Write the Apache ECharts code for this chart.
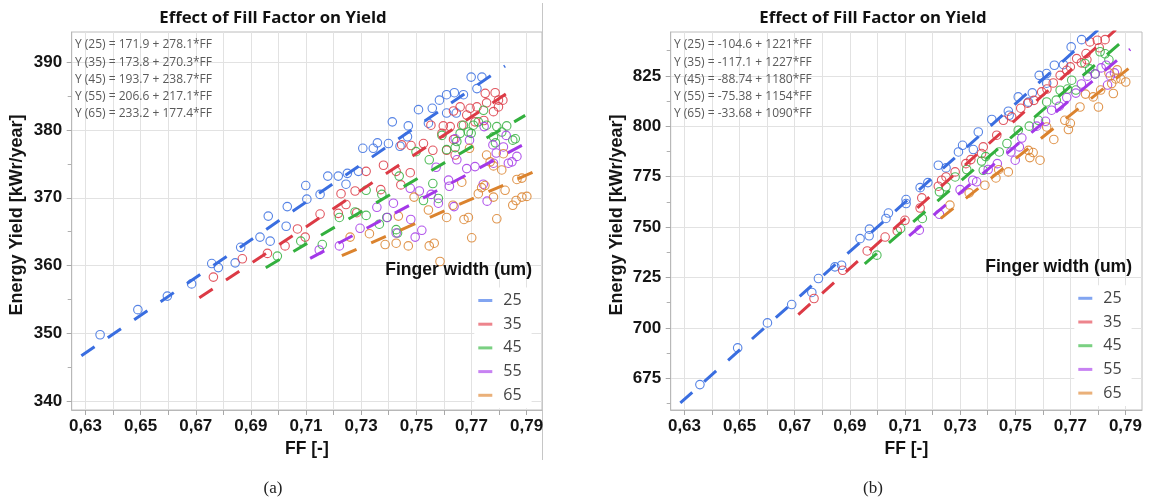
<!DOCTYPE html>
<html>
<head>
<meta charset="utf-8">
<script src="https://cdn.jsdelivr.net/npm/echarts@6/dist/echarts.min.js"></script>
<style>
html, body { margin: 0; padding: 0; background: #fff; }
#chart { width: 1154px; height: 504px; }
</style>
</head>
<body>
<div id="chart"></div>
<script>
// Finger widths (um) and their colours
const widths = ['25', '35', '45', '55', '65'];
const lineColors = ['#3a6ee0', '#dc3a45', '#33b03e', '#a338e8', '#db832e'];
const legendColors = ['#6c95ee', '#ea6f78', '#63c86c', '#bd6cf0', '#e6a262'];

// Linear fits: Y = intercept + slope * FF
const interceptA = [171.9, 173.8, 193.7, 206.6, 233.2];
const slopeA = [278.1, 270.3, 238.7, 217.1, 177.4];
const interceptB = [-104.6, -117.1, -88.74, -75.38, -33.68];
const slopeB = [1221, 1227, 1180, 1154, 1090];
const fitStart = [0.6285, 0.6713, 0.6954, 0.7115, 0.7230];
const fitEnd = [0.7822, 0.7865, 0.7895, 0.7917, 0.7932];

// Axis ticks
const xTickValues = [0.63, 0.64, 0.65, 0.66, 0.67, 0.68, 0.69, 0.70, 0.71, 0.72, 0.73, 0.74, 0.75, 0.76, 0.77, 0.78, 0.79];
const xLabelValues = [0.63, 0.65, 0.67, 0.69, 0.71, 0.73, 0.75, 0.77, 0.79];
const yLabelsA = [340, 350, 360, 370, 380, 390];
const yMinorA = [345, 355, 365, 375, 385];
const yLabelsB = [675, 700, 725, 750, 775, 800, 825];
const yMinorB = [662.5, 687.5, 712.5, 737.5, 762.5, 787.5, 812.5, 837.5];

// Panel (a): [FF, energy yield kWr/year]
const yieldA25 = [[0.6353,349.8],[0.6490,353.5],[0.6597,355.5],[0.6685,357.3],[0.6758,360.3],[0.6782,359.7],[0.6843,360.4],[0.6863,362.7],[0.6933,364.2],[0.6963,367.3],[0.6970,363.6],[0.7028,365.8],[0.7032,368.7],[0.7099,371.8],[0.7103,369.8],[0.7151,370.5],[0.7179,373.2],[0.7217,373.2],[0.7245,372.0],[0.7250,373.6],[0.7290,373.9],[0.7306,377.3],[0.7344,377.3],[0.7359,378.1],[0.7399,378.0],[0.7413,381.2],[0.7441,377.6],[0.7468,379.0],[0.7471,380.6],[0.7508,383.0],[0.7544,381.0],[0.7558,383.2],[0.7584,384.4],[0.7610,385.2],[0.7610,382.5],[0.7638,385.5],[0.7645,382.5],[0.7671,385.2],[0.7699,387.8],[0.7720,386.1],[0.7738,387.8]];
const yieldA35 = [[0.6764,358.3],[0.6869,361.0],[0.6960,361.8],[0.7024,362.9],[0.7069,365.4],[0.7097,364.2],[0.7151,367.6],[0.7217,367.7],[0.7227,370.6],[0.7245,369.0],[0.7278,371.0],[0.7284,367.8],[0.7318,373.9],[0.7371,371.2],[0.7381,374.8],[0.7427,373.9],[0.7444,371.9],[0.7447,377.8],[0.7478,373.7],[0.7481,377.7],[0.7526,378.0],[0.7553,380.7],[0.7560,377.0],[0.7593,379.5],[0.7598,380.6],[0.7610,377.0],[0.7623,380.5],[0.7635,378.6],[0.7635,382.8],[0.7641,376.3],[0.7659,383.4],[0.7665,380.7],[0.7683,382.2],[0.7695,383.2],[0.7713,381.2],[0.7720,383.4],[0.7745,381.4],[0.7750,385.4],[0.7755,384.0],[0.7780,382.7],[0.7786,385.5],[0.7798,384.4],[0.7798,383.4],[0.7814,384.4]];
const yieldA45 = [[0.6996,361.4],[0.7081,363.6],[0.7159,363.1],[0.7221,367.1],[0.7278,367.9],[0.7318,371.1],[0.7318,367.4],[0.7366,366.1],[0.7375,370.5],[0.7393,367.1],[0.7427,365.3],[0.7432,364.8],[0.7438,373.2],[0.7499,376.8],[0.7526,369.6],[0.7547,375.6],[0.7560,372.1],[0.7580,369.9],[0.7593,379.2],[0.7610,377.1],[0.7641,377.4],[0.7647,378.3],[0.7659,379.5],[0.7671,380.7],[0.7689,379.7],[0.7699,379.5],[0.7707,380.7],[0.7725,381.2],[0.7744,382.9],[0.7755,380.7],[0.7780,379.0],[0.7787,378.1],[0.7792,380.5],[0.7810,379.7],[0.7828,380.6],[0.7850,378.5],[0.7859,378.7]];
const yieldA55 = [[0.7148,362.3],[0.7221,362.9],[0.7296,365.5],[0.7357,368.6],[0.7395,367.1],[0.7417,369.2],[0.7427,364.8],[0.7478,371.4],[0.7480,366.8],[0.7496,364.2],[0.7511,371.0],[0.7520,365.2],[0.7554,370.5],[0.7572,374.5],[0.7580,369.2],[0.7617,372.6],[0.7620,371.7],[0.7637,368.7],[0.7641,378.7],[0.7647,375.6],[0.7683,374.3],[0.7693,378.5],[0.7713,374.6],[0.7743,372.0],[0.7746,380.5],[0.7757,369.5],[0.7778,377.8],[0.7780,375.1],[0.7790,376.6],[0.7816,377.5],[0.7826,379.2],[0.7834,375.1],[0.7847,375.3],[0.7865,376.1]];
const yieldA65 = [[0.7260,364.2],[0.7330,364.7],[0.7387,363.1],[0.7427,363.3],[0.7435,367.3],[0.7471,362.9],[0.7492,370.1],[0.7544,368.2],[0.7547,362.9],[0.7565,363.3],[0.7586,360.6],[0.7610,367.1],[0.7633,368.9],[0.7665,372.3],[0.7673,366.8],[0.7689,367.1],[0.7693,377.3],[0.7701,364.1],[0.7725,370.6],[0.7737,371.5],[0.7749,371.8],[0.7755,376.3],[0.7768,375.3],[0.7780,374.7],[0.7780,370.1],[0.7792,366.9],[0.7810,374.1],[0.7816,376.5],[0.7822,371.1],[0.7850,368.9],[0.7862,369.6],[0.7865,372.7],[0.7883,370.1],[0.7883,372.9],[0.7901,370.2]];

// Panel (b): [FF, energy yield kWr/year]
const yieldB25 = [[0.6356,671.9],[0.6493,690.1],[0.6601,702.5],[0.6689,711.6],[0.6762,717.6],[0.6786,724.5],[0.6846,730.3],[0.6870,731.1],[0.6937,744.3],[0.6970,745.7],[0.6971,749.0],[0.7031,754.3],[0.7040,757.0],[0.7104,761.7],[0.7104,763.7],[0.7155,769.6],[0.7183,772.1],[0.7221,780.7],[0.7249,779.4],[0.7294,787.3],[0.7309,790.6],[0.7348,788.5],[0.7366,797.2],[0.7415,803.4],[0.7475,807.5],[0.7478,805.5],[0.7511,814.6],[0.7548,812.0],[0.7562,816.6],[0.7587,825.3],[0.7614,826.2],[0.7614,821.4],[0.7642,830.3],[0.7675,830.6],[0.7703,839.4],[0.7741,843.0]];
const yieldB35 = [[0.6770,714.6],[0.6874,728.6],[0.6963,738.2],[0.7028,745.1],[0.7072,748.1],[0.7100,753.4],[0.7155,759.5],[0.7161,764.5],[0.7221,770.3],[0.7233,773.3],[0.7249,774.9],[0.7282,777.4],[0.7321,781.5],[0.7339,783.5],[0.7378,786.5],[0.7384,789.8],[0.7433,795.6],[0.7457,803.0],[0.7487,804.7],[0.7520,809.0],[0.7545,811.5],[0.7568,812.9],[0.7596,817.1],[0.7615,818.5],[0.7638,821.5],[0.7663,825.3],[0.7687,827.8],[0.7700,829.5],[0.7723,833.6],[0.7740,831.5],[0.7757,836.1],[0.7760,833.0],[0.7771,841.9],[0.7798,842.7],[0.7805,839.0],[0.7826,843.0]];
const yieldB45 = [[0.6998,736.1],[0.7084,749.3],[0.7163,754.3],[0.7225,767.5],[0.7249,770.0],[0.7282,774.9],[0.7324,778.6],[0.7378,782.8],[0.7384,778.2],[0.7393,785.0],[0.7442,787.3],[0.7470,791.5],[0.7511,798.1],[0.7551,800.1],[0.7584,803.0],[0.7614,812.1],[0.7649,813.0],[0.7663,817.9],[0.7690,818.5],[0.7705,822.9],[0.7720,818.0],[0.7753,831.2],[0.7770,828.5],[0.7790,826.0],[0.7808,837.0],[0.7826,836.0],[0.7840,833.0]];
const yieldB55 = [[0.7152,748.5],[0.7225,756.4],[0.7300,768.6],[0.7346,773.3],[0.7360,772.5],[0.7402,778.6],[0.7435,781.5],[0.7484,787.3],[0.7500,783.2],[0.7515,789.8],[0.7524,794.2],[0.7578,800.1],[0.7610,802.5],[0.7632,808.0],[0.7660,810.0],[0.7687,814.3],[0.7720,816.5],[0.7740,821.0],[0.7762,824.9],[0.7790,826.0],[0.7812,829.0],[0.7830,830.3],[0.7835,820.5],[0.7845,825.0],[0.7860,826.5]];
const yieldB65 = [[0.7263,760.9],[0.7333,767.0],[0.7390,770.8],[0.7430,774.4],[0.7440,778.5],[0.7475,777.4],[0.7548,788.1],[0.7553,784.5],[0.7565,787.0],[0.7590,783.2],[0.7614,799.7],[0.7640,793.5],[0.7680,803.0],[0.7693,798.4],[0.7700,801.5],[0.7735,809.6],[0.7755,816.0],[0.7783,814.6],[0.7802,809.6],[0.7810,818.0],[0.7840,826.5],[0.7850,821.2],[0.7856,816.3],[0.7865,823.5],[0.7870,828.0],[0.7883,823.5],[0.7901,822.0]];

const pointsA = [yieldA25, yieldA35, yieldA45, yieldA55, yieldA65];
const pointsB = [yieldB25, yieldB35, yieldB45, yieldB55, yieldB65];

const chartTitle = 'Effect of Fill Factor on Yield';
const yName = 'Energy Yield [kWr/year]';
const xName = 'FF [-]';
const legendTitle = 'Finger width (um)';
const panelTags = ['(a)', '(b)'];

const SANS = '"Liberation Sans", Arial, sans-serif';
const UI = '"Open Sans", "Noto Sans", sans-serif';

const panels = [
  { grid: { left: 71.7, top: 32, width: 470.3, height: 378 }, xMax: 0.7956,
    yMin: 338.7, yMax: 394.45, yLabels: yLabelsA, yMinor: yMinorA,
    intercept: interceptA, slope: slopeA, points: pointsA,
    center: 273, yNameX: 17, legendLeft: 474.3, legendTop: 287.5, legendTitleX: 532, legendTitleY: 270 },
  { grid: { left: 670.7, top: 32, width: 471.3, height: 378 }, xMax: 0.7960,
    yMin: 659.3, yMax: 846.8, yLabels: yLabelsB, yMinor: yMinorB,
    intercept: interceptB, slope: slopeB, points: pointsB,
    center: 873, yNameX: 617, legendLeft: 1074.3, legendTop: 285.3, legendTitleX: 1132, legendTitleY: 267 }
];

const fmtFF = v => v.toFixed(2).replace('.', ',');
const eqText = (w, a, b) => 'Y (' + w + ') = ' + String(a) + ' + ' + String(b) + '*FF';

const grids = [], xAxes = [], yAxes = [], series = [], legends = [], graphics = [], titles = [];

panels.forEach((p, pi) => {
  grids.push(Object.assign({ show: true, borderColor: '#bcbcbc', borderWidth: 1, backgroundColor: 'transparent' }, p.grid));

  xAxes.push({
    gridIndex: pi, type: 'value', min: 0.625, max: p.xMax,
    name: xName, nameLocation: 'middle', nameGap: 30.5,
    nameTextStyle: { fontFamily: SANS, fontWeight: 'bold', fontSize: 17.5, color: '#111' },
    axisLine: { show: true, onZero: false, lineStyle: { color: '#b8b8b8' } },
    axisTick: { show: true, length: 5, customValues: xTickValues, lineStyle: { color: '#a8a8a8' } },
    axisLabel: { customValues: xLabelValues, formatter: fmtFF, margin: 7.5,
      fontFamily: SANS, fontWeight: 'bold', fontSize: 17, color: '#151515' },
    splitLine: { show: true, lineStyle: { color: '#e2e2e2', width: 1 } }
  });

  yAxes.push({
    gridIndex: pi, type: 'value', position: 'left', min: p.yMin, max: p.yMax,
    axisLine: { show: true, lineStyle: { color: '#b8b8b8' } },
    axisTick: { show: true, length: 5, customValues: p.yLabels, lineStyle: { color: '#a8a8a8' } },
    axisLabel: { customValues: p.yLabels, margin: 9.5,
      fontFamily: SANS, fontWeight: 'bold', fontSize: 17, color: '#151515' },
    splitLine: { show: true, lineStyle: { color: '#e2e2e2', width: 1 } }
  });
  // minor ticks between labelled values
  yAxes.push({
    gridIndex: pi, type: 'value', position: 'left', offset: 0, min: p.yMin, max: p.yMax,
    axisLine: { show: false },
    axisTick: { show: true, length: 4, customValues: p.yMinor, lineStyle: { color: '#b0b0b0' } },
    axisLabel: { show: false },
    splitLine: { show: false }
  });

  widths.forEach((w, i) => {
    series.push({
      type: 'scatter', name: w, xAxisIndex: pi, yAxisIndex: pi * 2,
      data: p.points[i], symbol: 'circle', symbolSize: 8.5, silent: true, z: 2,
      itemStyle: { color: 'rgba(255,255,255,0)', borderColor: lineColors[i], borderWidth: 1.1, opacity: 0.85 }
    });
  });
  widths.forEach((w, i) => {
    const a = p.intercept[i], b = p.slope[i];
    series.push({
      type: 'line', name: w, xAxisIndex: pi, yAxisIndex: pi * 2,
      data: [[fitStart[i], a + b * fitStart[i]], [fitEnd[i], a + b * fitEnd[i]]],
      showSymbol: false, symbol: 'none', silent: true, z: 3, clip: true,
      lineStyle: { color: lineColors[i], width: 3, type: [16, 16], cap: 'butt' }
    });
  });

  legends.push({
    orient: 'vertical', left: p.legendLeft, top: p.legendTop,
    backgroundColor: '#ffffff', padding: [4, 10, 4, 4],
    icon: 'rect', itemWidth: 14, itemHeight: 3, itemGap: 5.7,
    selectedMode: false,
    itemStyle: { borderWidth: 0 },
    lineStyle: { width: 0, type: 'solid' },
    textStyle: { fontFamily: UI, fontSize: 16, color: '#444', lineHeight: 18, padding: [0, 0, 0, 6] },
    data: widths.map((w, i) => ({
      name: w, icon: 'rect',
      itemStyle: { color: legendColors[i], borderWidth: 0, borderColor: legendColors[i] },
      lineStyle: { width: 0, type: 'solid', color: legendColors[i] }
    }))
  });

  // fit equations, top-left inside the plot
  titles.push({
    text: widths.map((w, i) => eqText(w, p.intercept[i], p.slope[i])).join('\n'),
    left: p.grid.left + 3.3, top: 36.5, padding: 0,
    textStyle: { fontFamily: UI, fontSize: 12, fontWeight: 'normal', color: '#5a5a5a', lineHeight: 17.1 }
  });

  graphics.push(
    { type: 'text', x: p.center, y: 18.5, silent: true,
      style: { text: chartTitle, fontFamily: UI, fontWeight: 'bold', fontSize: 16.8, fill: '#111', align: 'center', verticalAlign: 'middle' } },
    { type: 'text', x: p.yNameX, y: 215, rotation: Math.PI / 2, silent: true,
      style: { text: yName, fontFamily: SANS, fontWeight: 'bold', fontSize: 18, fill: '#151515', align: 'center', verticalAlign: 'middle' } },
    { type: 'text', x: p.legendTitleX, y: p.legendTitleY, silent: true, z: 10,
      style: { text: legendTitle, fontFamily: SANS, fontWeight: 'bold', fontSize: 17.5, fill: '#111', align: 'right', verticalAlign: 'middle' } },
    { type: 'text', x: p.center, y: 489, silent: true,
      style: { text: panelTags[pi], fontFamily: '"Liberation Serif", "DejaVu Serif", serif', fontSize: 17, fill: '#222', align: 'center', verticalAlign: 'middle' } }
  );
});

// frame line on the right edge of panel (a)
graphics.push({ type: 'line', silent: true, shape: { x1: 542.5, y1: 3, x2: 542.5, y2: 460 }, style: { stroke: '#c6c6c6', lineWidth: 1 } });

const chart = echarts.init(document.getElementById('chart'), null, { renderer: 'canvas' });
chart.setOption({
  animation: false,
  backgroundColor: '#ffffff',
  title: titles,
  grid: grids,
  xAxis: xAxes,
  yAxis: yAxes,
  legend: legends,
  series: series,
  graphic: graphics
});
</script>
</body>
</html>
